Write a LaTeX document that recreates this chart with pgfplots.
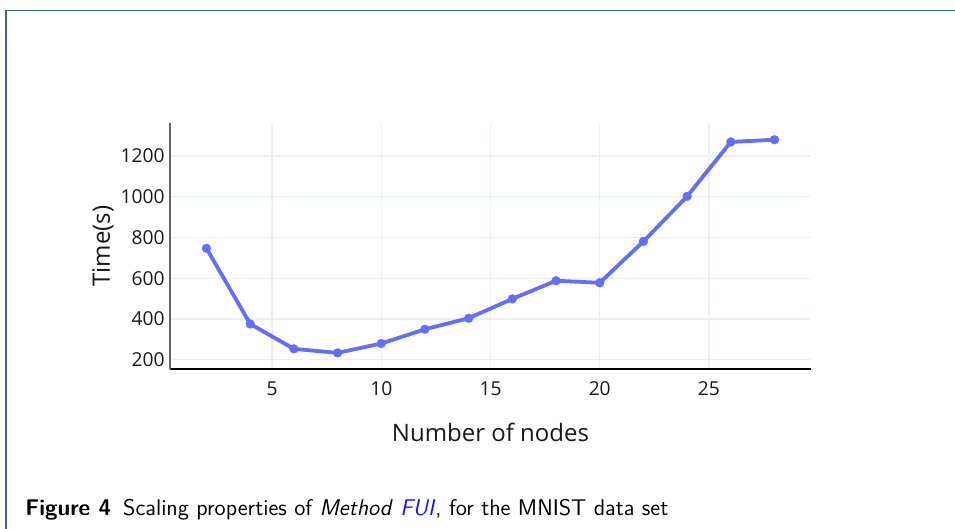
\documentclass[border=0pt]{standalone}
\usepackage{fontspec}
\setmainfont{Open Sans}
\usepackage{xcolor}
\usepackage{pgfplots}
\pgfplotsset{compat=1.18}
\definecolor{lineBlue}{HTML}{636EFA}
\definecolor{gridCol}{HTML}{EBF0F8}
\definecolor{frameCol}{RGB}{62,100,150}
\definecolor{capBlue}{RGB}{20,20,255}

\begin{document}
\begin{tikzpicture}
\useasboundingbox (0,0) rectangle (477.5pt,264.5pt);
% frame of the figure box
\draw[frameCol, line width=0.75pt] (3pt,-2pt) -- (3pt,259.25pt) -- (480pt,259.25pt);

\begin{axis}[
  at={(85pt,80pt)}, anchor=south west,
  scale only axis, width=320.5pt, height=123pt,
  xmin=0.33, xmax=29.67, ymin=155, ymax=1362,
  xtick={5,10,15,20,25}, ytick={200,400,600,800,1000,1200},
  major tick length=0pt,
  axis x line*=bottom, axis y line*=left,
  x axis line style={black, line width=0.6pt, -},
  y axis line style={black!60, line width=0.6pt, -},
  grid=major, major grid style={gridCol, line width=0.6pt},
  /pgf/number format/assume math mode=true,
  /pgf/number format/1000 sep={},
  scaled ticks=false,
  tick label style={font=\fontsize{9.6pt}{11pt}\selectfont, black!90},
  xticklabel style={anchor=base, yshift=-13.5pt},
  yticklabel style={anchor=east, inner xsep=2.5pt},
  xlabel={Number of nodes}, ylabel={Time(s)},
  label style={font=\fontsize{12pt}{14pt}\selectfont, black!90},
  xlabel style={at={(axis description cs:0.5,-0.256)}, anchor=center},
  ylabel style={at={(axis description cs:-0.1045,0.5)}, anchor=center},
  clip=false,
]
\addplot[lineBlue, line width=1.9pt, mark=*, mark size=2.2pt,
  mark options={solid, fill=lineBlue, draw=lineBlue, line width=0.2pt}]
  coordinates {(2,747)(4,376)(6,254)(8,234)(10,280)(12,350)(14,404)
               (16,499)(18,588)(20,578)(22,781)(24,1002)(26,1269)(28,1280)};
\end{axis}

\node[anchor=base west, inner sep=0, font=\sffamily\fontsize{11.35pt}{13pt}\selectfont]
  at (12.5pt,6.5pt)
  {\textbf{Figure 4}\hspace{6pt}Scaling properties of \textit{Method} \textcolor{capBlue}{\textit{FUI}}, for the MNIST data set};
\end{tikzpicture}
\end{document}
